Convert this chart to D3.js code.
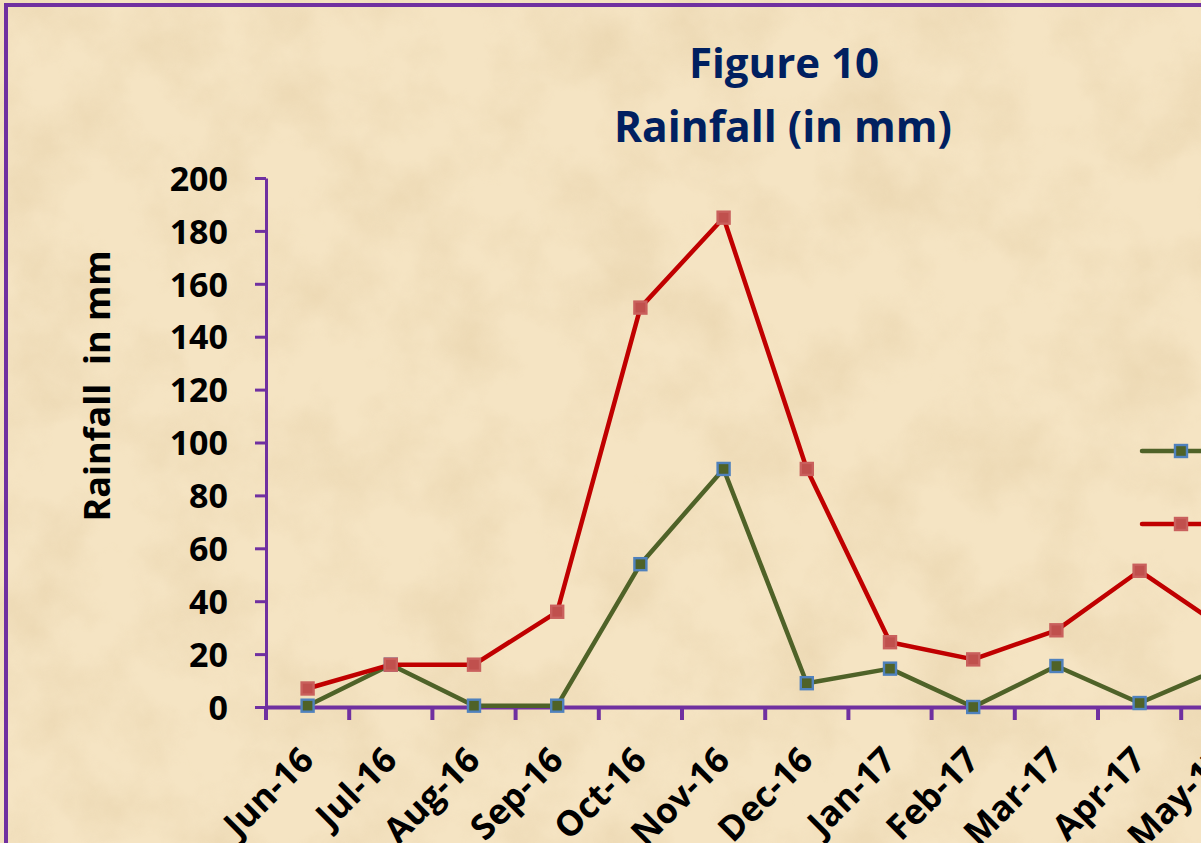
<!DOCTYPE html>
<html>
<head>
<meta charset="utf-8">
<script src="https://cdn.jsdelivr.net/npm/d3@7/dist/d3.min.js"></script>
<style>
  html, body { margin: 0; padding: 0; overflow: hidden; background: #F2E0BC; }
  svg { display: block; }
</style>
</head>
<body>
<svg id="chart" width="1201" height="843"></svg>
<script>
// ---- Data ----
const months = ["Jun-16","Jul-16","Aug-16","Sep-16","Oct-16","Nov-16","Dec-16","Jan-17","Feb-17","Mar-17","Apr-17","May-17"];
const actual = [0.5, 16, 0.5, 0.5, 54, 90, 9, 14.5, 0, 15.5, 1.5, 15];
const normal = [7, 16, 16, 36, 151, 185, 90, 24.5, 18, 29, 51.5, 30];
const seriesNames = ["Actual", "Normal"];
const yTicks = [0, 20, 40, 60, 80, 100, 120, 140, 160, 180, 200];
const titleLines = ["Figure 10", "Rainfall (in mm)"];
const yLabel = "Rainfall  in mm";

// ---- Setup ----
const svg = d3.select("#chart");
const W = 1201, H = 843;
const FONT = "'Open Sans', 'DejaVu Sans', sans-serif";

// parchment background
const defs = svg.append("defs");
const f = defs.append("filter").attr("id", "paper")
  .attr("x", 0).attr("y", 0).attr("width", "100%").attr("height", "100%");
f.append("feTurbulence").attr("type", "fractalNoise").attr("baseFrequency", "0.012")
  .attr("numOctaves", 5).attr("seed", 7).attr("result", "n");
f.append("feColorMatrix").attr("type", "matrix")
  .attr("values", "0 0 0 0 0.78  0 0 0 0 0.62  0 0 0 0 0.38  1.8 0 0 0 -0.70");

svg.append("rect").attr("width", W).attr("height", H).attr("fill", "#F5E4C3");
svg.append("rect").attr("width", W).attr("height", H).attr("filter", "url(#paper)").attr("opacity", 0.6);

// purple frame (extends beyond the window on the right and bottom)
svg.append("rect")
  .attr("x", 6).attr("y", 5).attr("width", 1400).attr("height", 1000)
  .attr("fill", "none").attr("stroke", "#7030A0").attr("stroke-width", 4);

// ---- Scales ----
const x = d3.scaleBand().domain(months).range([266, 266 + 12 * 83.2]).padding(0);
const y = d3.scaleLinear().domain([0, 200]).range([707, 178]);

const AXIS = "#7030A0";

// Y axis
const yAxis = svg.append("g").attr("transform", "translate(266,0)")
  .call(d3.axisLeft(y).tickValues(yTicks).tickSize(11).tickPadding(27).tickSizeOuter(0));
yAxis.select(".domain").attr("stroke", AXIS).attr("stroke-width", 3);
yAxis.selectAll(".tick line").attr("stroke", AXIS).attr("stroke-width", 3);
yAxis.selectAll(".tick text")
  .attr("font-family", FONT).attr("font-weight", "bold").attr("font-size", 34)
  .attr("fill", "#000").attr("dy", "0.36em");

// X axis
const xAxis = svg.append("g").attr("transform", "translate(0,707)")
  .call(d3.axisBottom(x).tickSize(0).tickFormat(""));
xAxis.select(".domain").attr("stroke", AXIS).attr("stroke-width", 4);
xAxis.selectAll(".tick").remove();
// boundary ticks between categories
const bounds = months.map(m => x(m)).concat([x(months[months.length - 1]) + x.bandwidth()]);
xAxis.selectAll("line.bt").data(bounds).join("line").attr("class", "bt")
  .attr("x1", d => d).attr("x2", d => d).attr("y1", 0).attr("y2", 13)
  .attr("stroke", AXIS).attr("stroke-width", 4);

// x labels rotated
svg.append("g").selectAll("text").data(months).join("text")
  .attr("transform", d => `translate(${x(d) + x.bandwidth() / 2 + 8},762) rotate(-45)`)
  .attr("text-anchor", "end")
  .attr("font-family", FONT).attr("font-weight", "bold").attr("font-size", 35)
  .attr("fill", "#000")
  .text(d => d);

// ---- Lines ----
const line = d3.line().x((d, i) => x(months[i]) + x.bandwidth() / 2).y(d => y(d));

const series = [
  { name: seriesNames[0], values: actual, stroke: "#4F6228", fill: "#4F6228", mstroke: "#4F81BD" },
  { name: seriesNames[1], values: normal, stroke: "#C00000", fill: "#C0504D", mstroke: "#C9605D" }
];

series.forEach(s => {
  svg.append("path").datum(s.values)
    .attr("d", line).attr("fill", "none")
    .attr("stroke", s.stroke).attr("stroke-width", 4.5).attr("stroke-linejoin", "round");
});
series.forEach(s => {
  svg.append("g").selectAll("rect").data(s.values).join("rect")
    .attr("x", (d, i) => x(months[i]) + x.bandwidth() / 2 - 6)
    .attr("y", d => y(d) - 6)
    .attr("width", 12).attr("height", 12)
    .attr("fill", s.fill).attr("stroke", s.mstroke).attr("stroke-width", 2.4);
});

// ---- Legend (mostly outside the visible window) ----
const legY = [451, 524];
series.forEach((s, i) => {
  const g = svg.append("g").attr("transform", `translate(1142,${legY[i]})`);
  g.append("line").attr("x1", 0).attr("x2", 78).attr("y1", 0).attr("y2", 0)
    .attr("stroke", s.stroke).attr("stroke-width", 4.5).attr("stroke-linecap", "round");
  g.append("rect").attr("x", 33).attr("y", -6).attr("width", 12).attr("height", 12)
    .attr("fill", s.fill).attr("stroke", s.mstroke).attr("stroke-width", 2.4);
  g.append("text").attr("x", 90).attr("y", 0).attr("dy", "0.35em")
    .attr("font-family", FONT).attr("font-weight", "bold").attr("font-size", 30)
    .attr("fill", "#000").text(s.name);
});

// ---- Titles ----
svg.append("text").attr("x", 784).attr("y", 78).attr("text-anchor", "middle")
  .attr("font-family", FONT).attr("font-weight", "bold").attr("font-size", 42)
  .attr("fill", "#002060").text(titleLines[0]);
svg.append("text").attr("x", 783).attr("y", 142).attr("text-anchor", "middle")
  .attr("font-family", FONT).attr("font-weight", "bold").attr("font-size", 42.5)
  .attr("fill", "#002060").text(titleLines[1]);

// Y axis title
svg.append("text")
  .attr("transform", "translate(110,386) rotate(-90)")
  .attr("text-anchor", "middle")
  .attr("font-family", FONT).attr("font-weight", "bold").attr("font-size", 36)
  .attr("fill", "#000").attr("xml:space", "preserve")
  .style("white-space", "pre")
  .text(yLabel);
</script>
</body>
</html>
